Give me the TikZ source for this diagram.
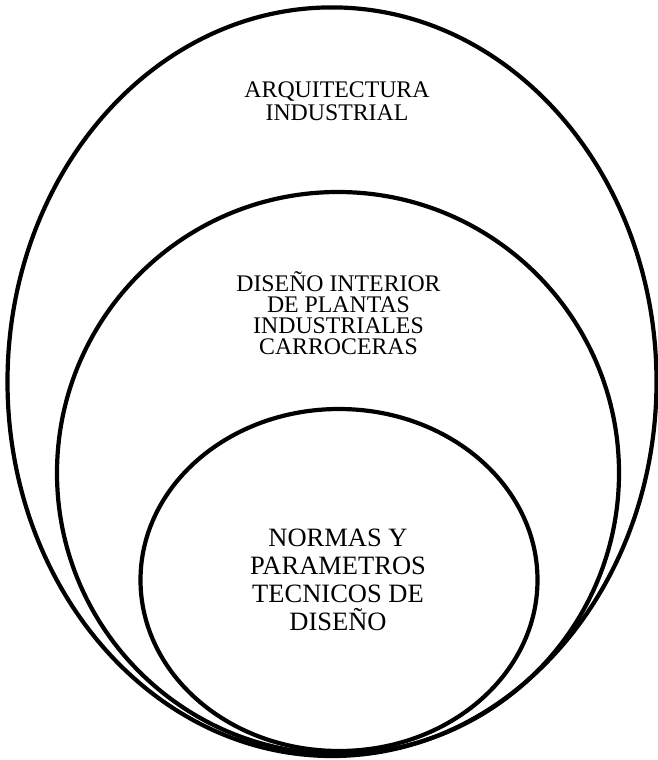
\documentclass[tikz,border=0pt]{standalone}
\usepackage{fontspec}
\setmainfont{Liberation Serif}
\usetikzlibrary{shapes.geometric}
\begin{document}
\begin{tikzpicture}[x=1pt,y=-1pt,
  ring/.style={draw=black, line width=4.2pt, ellipse, inner sep=0pt, outer sep=0pt},
  label/.style={align=center, inner sep=0pt, anchor=base}]
\useasboundingbox (0,0) rectangle (658,760);
\node[ring, minimum width=649pt, minimum height=748.6pt] (outer) at (332,381.7) {};
\node[ring, minimum width=562pt, minimum height=562pt] (middle) at (338,473) {};
\node[ring, minimum width=397pt, minimum height=342pt] (inner) at (339,580) {};
\node[label, font=\fontsize{23.8}{22.7}\selectfont] (t1) at (337,120) {ARQUITECTURA\\INDUSTRIAL};
\node[label, font=\fontsize{23.8}{20.9}\selectfont] (t2) at (338.5,354.3) {DISEÑO INTERIOR\\DE PLANTAS\\INDUSTRIALES\\CARROCERAS};
\node[label, font=\fontsize{26.5}{27.8}\selectfont] (t3) at (338,630) {NORMAS Y\\PARAMETROS\\TECNICOS DE\\DISEÑO};
\end{tikzpicture}
\end{document}
